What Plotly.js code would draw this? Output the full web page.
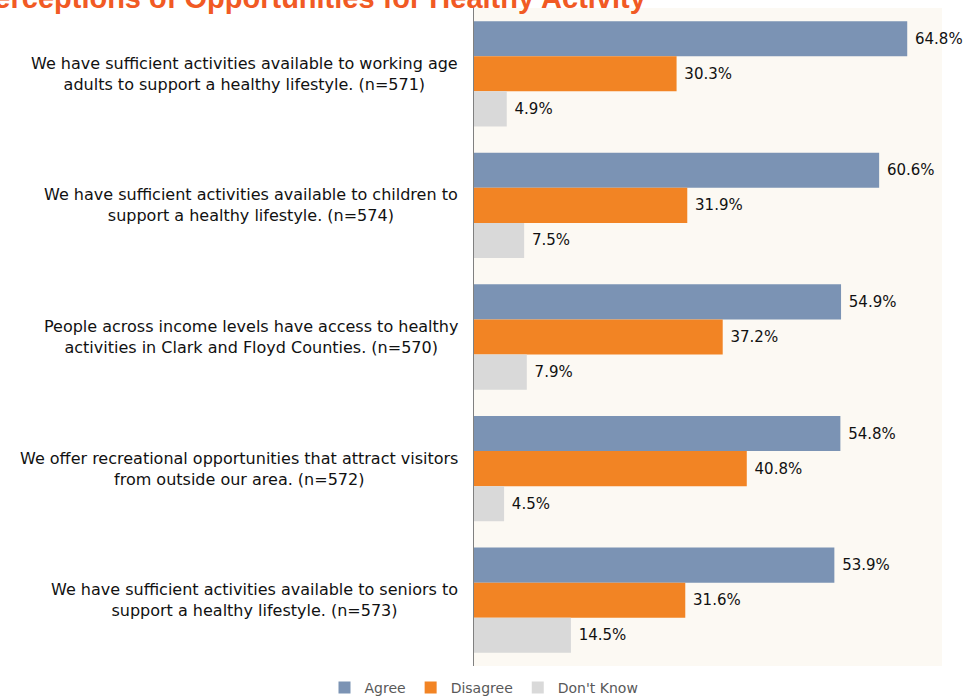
<!DOCTYPE html>
<html>
<head>
<meta charset="utf-8">
<script src="https://cdn.plot.ly/plotly-3.0.1.min.js"></script>
<style>html,body{margin:0;padding:0;background:#fff;}#chart{width:967px;height:698px;}</style>
</head>
<body>
<div id="chart"></div>
<script>
const categories = [
  "We have sufficient activities available to working age<br>adults to support a healthy lifestyle. (n=571)",
  "We have sufficient activities available to children to<br>support a healthy lifestyle. (n=574)",
  "People across income levels have access to healthy<br>activities in Clark and Floyd Counties. (n=570)",
  "We offer recreational opportunities that attract visitors<br>from outside our area. (n=572)",
  "We have sufficient activities available to seniors to<br>support a healthy lifestyle. (n=573)"
];
const agree = [64.8, 60.6, 54.9, 54.8, 53.9];
const disagree = [30.3, 31.9, 37.2, 40.8, 31.6];
const dontKnow = [4.9, 7.5, 7.9, 4.5, 14.5];
const seriesNames = ["Agree", "Disagree", "Don't Know"];
const chartTitle = "Perceptions of Opportunities for Healthy Activity";

const FONT = "'DejaVu Sans', sans-serif";
const colors = ["#7b93b4", "#f28424", "#d9d9d9"];
const allSeries = [agree, disagree, dontKnow];

const traces = allSeries.map((vals, i) => ({
  type: "bar",
  orientation: "h",
  name: seriesNames[i],
  y: categories,
  x: vals,
  marker: {color: colors[i]},
  text: vals.map(v => "\u00a0" + v.toFixed(1) + "%"),
  textposition: "outside",
  textfont: {family: FONT, size: 15, color: "#111"},
  cliponaxis: false,
  hoverinfo: "x+name"
}));

const annotations = categories.map(c => ({
  xref: "paper", yref: "y", x: 0, y: c,
  xanchor: "right", yanchor: "middle", xshift: -14,
  align: "center", showarrow: false, text: c,
  font: {family: FONT, size: 16, color: "#111"}
}));
annotations.push({
  xref: "paper", yref: "paper",
  x: (648 - 474) / 468, xanchor: "right",
  y: 1 + 10 / 658, yanchor: "middle",
  showarrow: false, text: "<b>" + chartTitle + "</b>",
  font: {family: "Liberation Sans, Arial, sans-serif", size: 29, color: "#f15a24"}
});

const layout = {
  width: 967, height: 698,
  margin: {l: 474, r: 25, t: 8, b: 32},
  paper_bgcolor: "#ffffff",
  plot_bgcolor: "#fcf9f3",
  barmode: "group",
  bargap: 0.2,
  bargroupgap: 0,
  showlegend: true,
  legend: {
    orientation: "h", xref: "paper", x: (484 - 474) / 468, xanchor: "center",
    yref: "container", y: 1 - 688 / 698, yanchor: "middle",
    font: {family: FONT, size: 14, color: "#595959"},
    traceorder: "normal", itemwidth: 30
  },
  xaxis: {range: [0, 70], showgrid: false, zeroline: false, showticklabels: false, ticks: "", showline: false, fixedrange: true},
  yaxis: {autorange: "reversed", showticklabels: false, ticks: "", showgrid: false, showline: true, linecolor: "#808080", linewidth: 1, zeroline: false, fixedrange: true},
  annotations: annotations
};

Plotly.newPlot("chart", traces, layout, {displayModeBar: false, staticPlot: true});
</script>
</body>
</html>
